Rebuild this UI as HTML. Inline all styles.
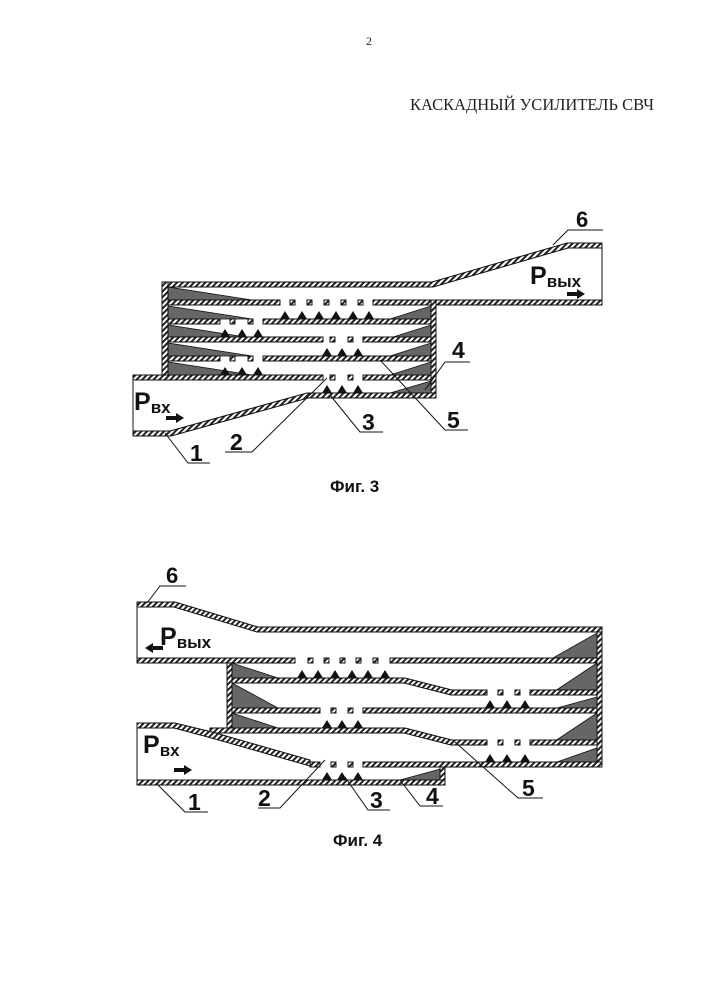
<!DOCTYPE html>
<html><head><meta charset="utf-8"><style>
html,body{margin:0;padding:0;background:#fff;}
svg{display:block;}
.t{font-family:"Liberation Serif",serif;fill:#222;}
.n{font-family:"Liberation Sans",sans-serif;font-weight:bold;fill:#111;}
</style></head><body>
<svg width="707" height="1000" viewBox="0 0 707 1000" xmlns="http://www.w3.org/2000/svg">
<defs>
<pattern id="h" width="4" height="4" patternUnits="userSpaceOnUse" patternTransform="rotate(45)">
<rect width="4" height="4" fill="#fff"/><rect width="2" height="4" fill="#222"/>
</pattern>
</defs>
<text class="t" x="366" y="45" font-size="12">2</text>
<text class="t" x="410" y="110" font-size="16.5">КАСКАДНЫЙ УСИЛИТЕЛЬ СВЧ</text>

<!-- FIG 3 -->
<g stroke="#111" stroke-width="1" fill="url(#h)">
<g fill="#666" stroke="#111" stroke-width="0.8">
<polygon points="168,287 168,300 252,300"/>
<polygon points="168,306 168,319 252,319"/>
<polygon points="168,325 168,338 252,338"/>
<polygon points="168,343 168,356 252,356"/>
<polygon points="168,362 168,375 252,375"/>
<polygon points="431,306 431,319 390,319"/>
<polygon points="431,325 431,338 390,338"/>
<polygon points="431,343 431,356 390,356"/>
<polygon points="431,362 431,375 390,375"/>
<polygon points="431,381 431,393 390,393"/>
</g>
<polygon points="162,282 432,282 567,243 602,243 602,248 568,248 433,287 162,287"/>
<rect x="162" y="282" width="6" height="95"/>
<rect x="168" y="300" width="112" height="5"/>
<rect x="373" y="300" width="229" height="5"/>
<rect x="168" y="319" width="52" height="5"/>
<rect x="263" y="319" width="168" height="5"/>
<rect x="168" y="337" width="155" height="5"/>
<rect x="363" y="337" width="68" height="5"/>
<rect x="168" y="356" width="52" height="5"/>
<rect x="263" y="356" width="168" height="5"/>
<rect x="133" y="375" width="190" height="5"/>
<rect x="363" y="375" width="68" height="5"/>
<rect x="431" y="300" width="5" height="98"/>
<polygon points="133,431 170,431 307,393 436,393 436,398 308,398 171,436 133,436"/>
</g>
<line x1="602" y1="243" x2="602" y2="305" stroke="#111"/>
<line x1="133" y1="375" x2="133" y2="436" stroke="#111"/>
<g fill="url(#h)" stroke="#111" stroke-width="1">
<rect x="290" y="300" width="5" height="5"/><rect x="307" y="300" width="5" height="5"/><rect x="324" y="300" width="5" height="5"/><rect x="341" y="300" width="5" height="5"/><rect x="358" y="300" width="5" height="5"/>
<rect x="230" y="319" width="5" height="5"/><rect x="248" y="319" width="5" height="5"/>
<rect x="330" y="337" width="5" height="5"/><rect x="348" y="337" width="5" height="5"/>
<rect x="230" y="356" width="5" height="5"/><rect x="248" y="356" width="5" height="5"/>
<rect x="330" y="375" width="5" height="5"/><rect x="348" y="375" width="5" height="5"/>
</g>
<g fill="#111">
<path d="M280,319 l5,-8 l5,8z M297,319 l5,-8 l5,8z M314,319 l5,-8 l5,8z M331,319 l5,-8 l5,8z M348,319 l5,-8 l5,8z M364,319 l5,-8 l5,8z"/>
<path d="M220,337 l5,-8 l5,8z M237,337 l5,-8 l5,8z M253,337 l5,-8 l5,8z"/>
<path d="M322,356 l5,-8 l5,8z M337,356 l5,-8 l5,8z M353,356 l5,-8 l5,8z"/>
<path d="M220,375 l5,-8 l5,8z M237,375 l5,-8 l5,8z M253,375 l5,-8 l5,8z"/>
<path d="M322,393 l5,-8 l5,8z M337,393 l5,-8 l5,8z M353,393 l5,-8 l5,8z"/>
<path d="M567,292 h10 v-3 l8,5 l-8,5 v-3 h-10z"/>
<path d="M166,416 h10 v-3 l8,5 l-8,5 v-3 h-10z"/>
</g>
<g stroke="#111" stroke-width="1" fill="none">
<polyline points="553,245 568,230 603,230"/>
<polyline points="165,433 188,463 210,463"/>
<polyline points="327,378 252,452 225,452"/>
<polyline points="330,395 360,432 383,432"/>
<polyline points="380,360 445,430 468,430"/>
<polyline points="425,390 445,362 470,362"/>
</g>
<text class="n" x="576" y="227" font-size="22">6</text>
<text class="n" x="530" y="284" font-size="25">P<tspan font-size="17" dy="3">вых</tspan></text>
<text class="n" x="134" y="410" font-size="25">P<tspan font-size="17" dy="3">вх</tspan></text>
<text class="n" x="190" y="461" font-size="23">1</text>
<text class="n" x="230" y="450" font-size="23">2</text>
<text class="n" x="362" y="430" font-size="23">3</text>
<text class="n" x="452" y="358" font-size="23">4</text>
<text class="n" x="447" y="428" font-size="23">5</text>
<text class="n" x="330" y="492" font-size="17">Фиг. 3</text>

<!-- FIG 4 -->
<g fill="#666" stroke="#111" stroke-width="0.8">
<polygon points="597,633 597,658 553,658"/>
<polygon points="232,663 232,678 278,678"/>
<polygon points="597,663 597,693 552,693"/>
<polygon points="232,683 232,708 278,708"/>
<polygon points="597,697 597,708 557,708"/>
<polygon points="232,713 232,728 278,728"/>
<polygon points="597,713 597,743 552,743"/>
<polygon points="597,748 597,762 557,762"/>
<polygon points="444,768 444,780 400,780"/>
</g>
<g stroke="#111" stroke-width="1" fill="url(#h)">
<polygon points="137,602 175,602 258,627 602,627 602,632 257,632 174,607 137,607"/>
<rect x="597" y="632" width="5" height="135"/>
<rect x="137" y="658" width="158" height="5"/>
<rect x="390" y="658" width="207" height="5"/>
<rect x="227" y="663" width="5" height="70"/>
<polygon points="232,678 405,678 452,690 487,690 487,695 451,695 404,683 232,683"/>
<rect x="530" y="690" width="67" height="5"/>
<rect x="232" y="708" width="88" height="5"/>
<rect x="363" y="708" width="234" height="5"/>
<polygon points="210,728 405,728 452,740 487,740 487,745 451,745 404,733 210,733"/>
<rect x="530" y="740" width="67" height="5"/>
<polygon points="137,723 175,723 212,732 310,760 310,766 208,737 174,728 137,728"/>
<rect x="310" y="762" width="10" height="5"/>
<rect x="363" y="762" width="239" height="5"/>
<rect x="137" y="780" width="308" height="5"/>
<rect x="440" y="767" width="5" height="13"/>
</g>
<line x1="137" y1="602" x2="137" y2="663" stroke="#111"/>
<line x1="137" y1="723" x2="137" y2="785" stroke="#111"/>
<g fill="url(#h)" stroke="#111" stroke-width="1">
<rect x="308" y="658" width="5" height="5"/><rect x="324" y="658" width="5" height="5"/><rect x="340" y="658" width="5" height="5"/><rect x="356" y="658" width="5" height="5"/><rect x="373" y="658" width="5" height="5"/>
<rect x="498" y="690" width="5" height="5"/><rect x="515" y="690" width="5" height="5"/>
<rect x="331" y="708" width="5" height="5"/><rect x="348" y="708" width="5" height="5"/>
<rect x="498" y="740" width="5" height="5"/><rect x="515" y="740" width="5" height="5"/>
<rect x="331" y="762" width="5" height="5"/><rect x="348" y="762" width="5" height="5"/>
</g>
<g fill="#111">
<path d="M297,678 l5,-8 l5,8z M313,678 l5,-8 l5,8z M330,678 l5,-8 l5,8z M347,678 l5,-8 l5,8z M363,678 l5,-8 l5,8z M380,678 l5,-8 l5,8z"/>
<path d="M485,708 l5,-8 l5,8z M502,708 l5,-8 l5,8z M520,708 l5,-8 l5,8z"/>
<path d="M322,728 l5,-8 l5,8z M337,728 l5,-8 l5,8z M353,728 l5,-8 l5,8z"/>
<path d="M485,762 l5,-8 l5,8z M502,762 l5,-8 l5,8z M520,762 l5,-8 l5,8z"/>
<path d="M322,780 l5,-8 l5,8z M337,780 l5,-8 l5,8z M353,780 l5,-8 l5,8z"/>
<path d="M163,646 h-10 v-3 l-8,5 l8,5 v-3 h10z"/>
<path d="M174,768 h10 v-3 l8,5 l-8,5 v-3 h-10z"/>
</g>
<g stroke="#111" stroke-width="1" fill="none">
<polyline points="147,603 160,586 186,586"/>
<polyline points="158,785 185,812 208,812"/>
<polyline points="325,760 280,808 258,808"/>
<polyline points="345,777 368,810 390,810"/>
<polyline points="400,780 420,806 443,806"/>
<polyline points="455,742 518,798 543,798"/>
</g>
<text class="n" x="166" y="583" font-size="22">6</text>
<text class="n" x="160" y="645" font-size="25">P<tspan font-size="17" dy="3">вых</tspan></text>
<text class="n" x="143" y="753" font-size="25">P<tspan font-size="17" dy="3">вх</tspan></text>
<text class="n" x="188" y="810" font-size="23">1</text>
<text class="n" x="258" y="806" font-size="23">2</text>
<text class="n" x="370" y="808" font-size="23">3</text>
<text class="n" x="426" y="804" font-size="23">4</text>
<text class="n" x="522" y="796" font-size="23">5</text>
<text class="n" x="333" y="846" font-size="17">Фиг. 4</text>
</svg>
</body></html>
